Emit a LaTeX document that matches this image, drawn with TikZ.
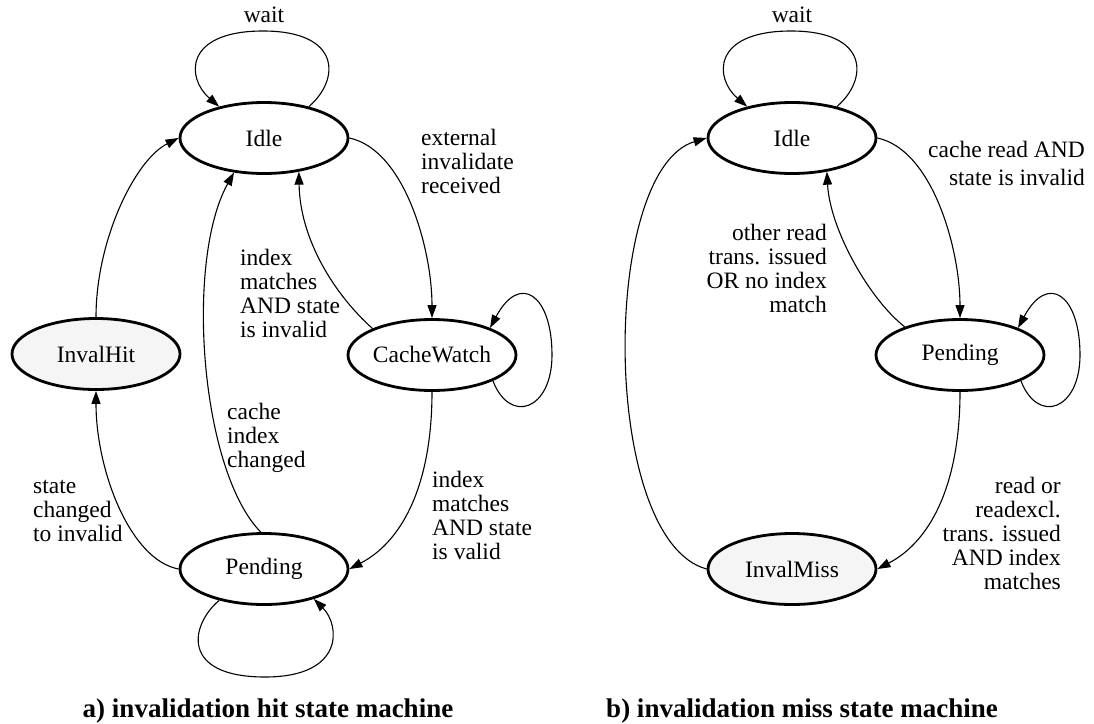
\documentclass[tikz,border=0pt]{standalone}
\usepackage{fontspec}
\setmainfont{Liberation Serif}
\usetikzlibrary{arrows.meta,shapes.geometric}
\begin{document}
\begin{tikzpicture}[x=1pt,y=-1pt,
  state/.style={ellipse,draw,line width=2.8pt,minimum width=168pt,minimum height=71pt,inner sep=0pt,font=\fontsize{23.5}{24}\selectfont},
  inval/.style={state,fill=black!4},
  edge/.style={line width=1.1pt,-{Triangle[length=13pt,width=9pt]}},
  lbl/.style={inner sep=0pt,font=\fontsize{23.5}{24}\selectfont},
  captext/.style={inner sep=0pt,font=\fontsize{27}{28}\selectfont\bfseries}]
\useasboundingbox (0,0) rectangle (1094,723);
% ---------- left: invalidation hit ----------
\node[state] (iA) at (264,138) {Idle};
\node[inval] (ihA) at (96,354) {InvalHit};
\node[state] (cwA) at (432,355) {CacheWatch};
\node[state] (pA) at (264,569) {Pending};

\draw[edge] (iA.35) .. controls (340,80) and (342,31) .. (263,31)
  .. controls (184,31) and (186,78) .. (iA.145);
\node[lbl,anchor=base] (lwA) at (264,22) {wait};

\draw[edge] (iA.east) .. controls (405,150) and (432,250) .. (cwA.north);
\node[lbl,anchor=base west,align=left] (l1A) at (421,193) {external\\invalidate\\received};

\draw[edge] (cwA.156) .. controls (335,295) and (300,240) .. (iA.-44);
\node[lbl,anchor=base west,align=left] (l2A) at (240,337) {index\\matches\\AND state\\is invalid};

\draw[edge] (cwA.-23) .. controls (510,425) and (552,410) .. (552,355)
  .. controls (552,295) and (520,272) .. (cwA.25);

\draw[edge] (cwA.south) .. controls (432,480) and (405,540) .. (pA.east);
\node[lbl,anchor=base west,align=left] (l3A) at (432,559) {index\\matches\\AND state\\is valid};

\draw[edge] (pA.95) .. controls (200,470) and (185,260) .. (iA.-131);
\node[lbl,anchor=base west,align=left] (l4A) at (227,467) {cache\\index\\changed};

\draw[edge] (pA.west) .. controls (130,560) and (96,470) .. (ihA.south);
\node[lbl,anchor=base west,align=left] (l5A) at (33,541) {state\\changed\\to invalid};

\draw[edge] (ihA.north) .. controls (96,240) and (135,160) .. (iA.west);

\draw[edge] (pA.-145) .. controls (190,625) and (180,677) .. (265,677)
  .. controls (345,677) and (340,625) .. (pA.-31);

\node[captext,anchor=base] (capA) at (268,717) {a) invalidation hit state machine};

% ---------- right: invalidation miss ----------
\node[state] (iB) at (792,138) {Idle};
\node[state] (pB) at (960,355) {Pending};
\node[inval] (imB) at (792,569) {InvalMiss};

\draw[edge] (iB.35) .. controls (868,80) and (870,31) .. (791,31)
  .. controls (712,31) and (714,78) .. (iB.145);
\node[lbl,anchor=base] (lwB) at (792,22) {wait};

\draw[edge] (iB.east) .. controls (933,150) and (960,250) .. (pB.north);
\node[lbl,anchor=base east,align=right] (l1B) at (1085,185) {cache read AND\\[4pt]state is invalid};

\draw[edge] (pB.153) .. controls (870,300) and (830,230) .. (iB.-44);
\node[lbl,anchor=base east,align=right] (l2B) at (827,312) {other read\\trans. issued\\OR no index\\match};

\draw[edge] (pB.-23) .. controls (1038,425) and (1080,410) .. (1080,355)
  .. controls (1080,295) and (1048,272) .. (pB.25);

\draw[edge] (pB.south) .. controls (960,480) and (933,540) .. (imB.east);
\node[lbl,anchor=base east,align=right] (l3B) at (1061,589) {read or\\readexcl.\\trans. issued\\AND index\\matches};

\draw[edge] (imB.west) .. controls (600,540) and (600,170) .. (iB.west);

\node[captext,anchor=base] (capB) at (802,717) {b) invalidation miss state machine};
\end{tikzpicture}
\end{document}
